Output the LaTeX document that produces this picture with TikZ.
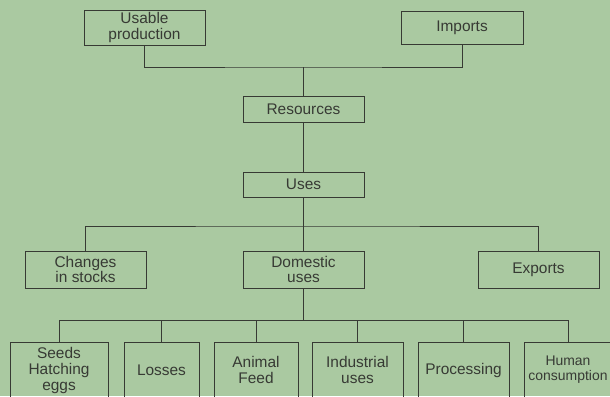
\documentclass[tikz,border=0pt]{standalone}
\usepackage{fontspec}
\setmainfont{Liberation Sans}
\definecolor{paper}{RGB}{170,201,161}
\definecolor{ink}{RGB}{55,58,52}
\tikzset{
  box/.style={draw=ink, text=ink, line width=0.8pt, align=center,
    inner sep=0pt, font=\fontsize{15.5}{15.5}\selectfont},
  link/.style={draw=ink, line width=0.8pt}
}
\begin{document}
\begin{tikzpicture}[x=1bp, y=-1bp]

  % background
  \fill[paper] (0,0) rectangle (610,396);
  \useasboundingbox (0,0) rectangle (610,396);

  % Sources
  \node[box, minimum width=121bp, minimum height=35bp] (prod) at (144.5,27.5) {Usable\\production};
  \node[box, minimum width=122bp, minimum height=33bp] (imp) at (462,27.5) {Imports};
  \coordinate (jn1) at (303.5,67);

  % Resources and uses
  \node[box, minimum width=121bp, minimum height=26bp] (res) at (303.5,109) {Resources};
  \node[box, minimum width=121bp, minimum height=25bp] (uses) at (303.5,184.5) {Uses};
  \coordinate (jn2) at (303.5,226);

  % Second row
  \node[box, minimum width=121bp, minimum height=37bp] (stock) at (85.5,269.5) {Changes\\in stocks};
  \node[box, minimum width=121bp, minimum height=37bp] (dom) at (303.5,269.5) {Domestic\\uses};
  \node[box, minimum width=121bp, minimum height=37bp] (exp) at (538.5,269.5) {Exports};
  \coordinate (jn3) at (303.5,320);

  % Domestic uses
  \node[box, minimum width=98bp, minimum height=56bp,
    font=\fontsize{15.5}{16.5}\selectfont] (seeds) at (59,370.5) {Seeds\\Hatching\\eggs};
  \node[box, minimum width=75bp, minimum height=56bp] (loss) at (161.5,370) {Losses};
  \node[box, minimum width=84bp, minimum height=56bp] (feed) at (256,370) {Animal\\Feed};
  \node[box, minimum width=91bp, minimum height=56bp] (indus) at (357.5,370) {Industrial\\uses};
  \node[box, minimum width=91bp, minimum height=56bp] (proc) at (463.5,370) {Processing};
  \node[box, minimum width=88bp, minimum height=56bp,
    font=\fontsize{14}{15}\selectfont] (human) at (568,370) {Human\\consumption};

  % Connectors
  \draw[link] (prod.south) |- (jn1) -| (imp.south);
  \draw[link] (jn1) -- (res.north);
  \draw[link] (res.south) -- (uses.north);
  \draw[link] (uses.south) -- (dom.north);
  \draw[link] (stock.north) |- (jn2) -| (exp.north);
  \draw[link] (dom.south) -- (jn3);
  \draw[link] (seeds.north) |- (jn3) -| (human.north);
  \foreach \n in {loss,feed,indus,proc}
    \draw[link] (\n.north) -- (\n.north |- jn3);

\end{tikzpicture}
\end{document}
